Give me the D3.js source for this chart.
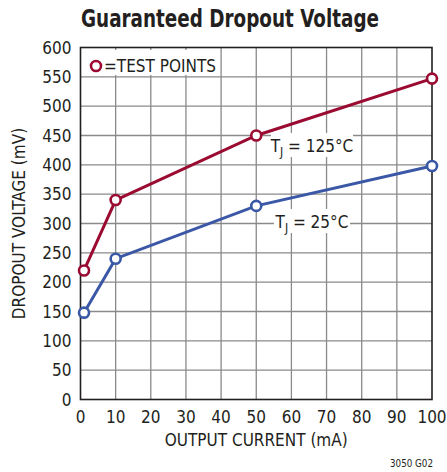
<!DOCTYPE html>
<html>
<head>
<meta charset="utf-8">
<script src="https://cdn.jsdelivr.net/npm/d3@7"></script>
<style>
  body { margin: 0; background: #fff; }
  text { font-family: "Liberation Sans Narrow", "DejaVu Sans Condensed", sans-serif; fill: #231f20; }
</style>
</head>
<body>
<script>
// data
var current = [1, 10, 50, 100]
var hot = [220, 340, 450, 547]     // TJ = 125C
var room = [148, 240, 330, 398]    // TJ = 25C
var xTicks = d3.range(0, 101, 10)
var yTicks = d3.range(0, 601, 50)

var width = 447,
    height = 472
var m = {left: 80.5, right: 15, top: 47.5, bottom: 72.5}

var svg = d3.select('body').append('svg')
    .attr('width', width)
    .attr('height', height)

var x = d3.scaleLinear().domain([0, 100]).range([m.left, width - m.right])
var y = d3.scaleLinear().domain([0, 600]).range([height - m.bottom, m.top])

// title
svg.append('text')
    .attr('x', 81).attr('y', 27)
    .attr('textLength', 298)
    .attr('lengthAdjust', 'spacingAndGlyphs')
    .style('font-size', '24px')
    .style('font-weight', 'bold')
    .text('Guaranteed Dropout Voltage')

// grid
svg.append('g').selectAll('line')
    .data(xTicks.slice(1, -1)).enter()
    .append('line')
    .attr('x1', d => x(d)).attr('x2', d => x(d))
    .attr('y1', y(0)).attr('y2', y(600))
    .attr('stroke', '#8a8a8a').attr('stroke-width', 1.3)
svg.append('g').selectAll('line')
    .data(yTicks.slice(1, -1)).enter()
    .append('line')
    .attr('y1', d => y(d)).attr('y2', d => y(d))
    .attr('x1', x(0)).attr('x2', x(100))
    .attr('stroke', '#8a8a8a').attr('stroke-width', 1.3)

// frame
svg.append('rect')
    .attr('x', x(0)).attr('y', y(600))
    .attr('width', x(100) - x(0)).attr('height', y(0) - y(600))
    .attr('fill', 'none').attr('stroke', '#231f20').attr('stroke-width', 1.6)

// tick labels
svg.append('g').selectAll('text')
    .data(yTicks).enter()
    .append('text')
    .attr('x', x(0) - 9).attr('y', d => y(d) + 6)
    .attr('text-anchor', 'end')
    .style('font-size', '17px')
    .text(d => d)
svg.append('g').selectAll('text')
    .data(xTicks).enter()
    .append('text')
    .attr('x', d => x(d)).attr('y', y(0) + 23)
    .attr('text-anchor', 'middle')
    .style('font-size', '17px')
    .text(d => d)

// axis titles
svg.append('text')
    .attr('x', x(50)).attr('y', 446)
    .attr('text-anchor', 'middle')
    .style('font-size', '17px')
    .text('OUTPUT CURRENT (mA)')
svg.append('text')
    .attr('transform', 'translate(25,' + y(300) + ') rotate(-90)')
    .attr('text-anchor', 'middle')
    .style('font-size', '17px')
    .text('DROPOUT VOLTAGE (mV)')

svg.append('text')
    .attr('x', 390).attr('y', 467)
    .attr('textLength', 43)
    .attr('lengthAdjust', 'spacingAndGlyphs')
    .style('font-size', '11px')
    .text('3050 G02')

// legend box
var lg = svg.append('g')
lg.append('rect')
    .attr('x', 83).attr('y', 50).attr('width', 132).attr('height', 25)
    .attr('fill', '#fff')
lg.append('circle')
    .attr('cx', 96).attr('cy', 66).attr('r', 5)
    .attr('fill', '#fff').attr('stroke', '#9b0a31').attr('stroke-width', 2.6)
lg.append('text')
    .attr('x', 104).attr('y', 72)
    .style('font-size', '17px')
    .text('=TEST POINTS')

// series
var series = [
    {name: '125', vals: hot, color: '#9b0a31'},
    {name: '25', vals: room, color: '#3a58a6'}
]
var line = d3.line()
    .x((d, i) => x(current[i]))
    .y(d => y(d))

series.forEach(s => {
    svg.append('path')
        .datum(s.vals)
        .attr('d', line)
        .attr('fill', 'none')
        .attr('stroke', s.color)
        .attr('stroke-width', 3)
    svg.append('g').selectAll('circle')
        .data(s.vals).enter()
        .append('circle')
        .attr('cx', (d, i) => x(current[i]))
        .attr('cy', d => y(d))
        .attr('r', 5)
        .attr('fill', '#fff')
        .attr('stroke', s.color)
        .attr('stroke-width', 2.6)
})

// curve labels with white backing
function tjLabel(cx, cy, temp, w) {
    var g = svg.append('g')
    g.append('rect')
        .attr('x', cx - w / 2).attr('y', cy - 13).attr('width', w).attr('height', 24)
        .attr('fill', '#fff')
    var t = g.append('text')
        .attr('x', cx).attr('y', cy + 6)
        .attr('text-anchor', 'middle')
        .style('font-size', '17px')
    t.append('tspan').text('T')
    t.append('tspan').attr('dy', 4).style('font-size', '12px').text('J')
    t.append('tspan').attr('dy', -4).text(' = ' + temp + '°C')
}
tjLabel(312, 146, 125, 82)
tjLabel(312, 222, 25, 76)
</script>
</body>
</html>
